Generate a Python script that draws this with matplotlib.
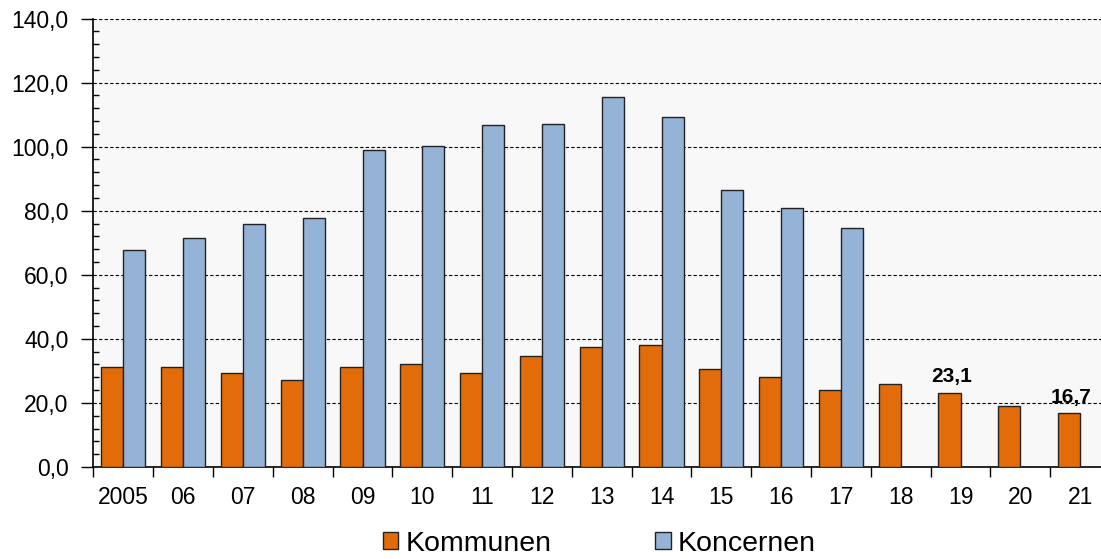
import matplotlib.pyplot as plt
from matplotlib.ticker import MultipleLocator, FuncFormatter
from matplotlib.patches import Patch
import numpy as np

plt.rcParams['font.family'] = ['Liberation Sans', 'DejaVu Sans']

years = ['2005', '06', '07', '08', '09', '10', '11', '12', '13', '14',
         '15', '16', '17', '18', '19', '20', '21']
kommunen = [31.1, 31.1, 29.3, 27.0, 31.1, 32.0, 29.3, 34.7, 37.3, 38.1,
            30.6, 28.0, 23.9, 25.8, 23.1, 19.0, 16.7]
koncernen = [67.6, 71.5, 76.0, 77.7, 99.1, 100.2, 106.6, 107.0, 115.5, 109.3,
             86.6, 80.8, 74.6]
labelled = {'19': '23,1', '21': '16,7'}

c_komm = '#E36C0A'
c_konc = '#95B3D7'

fig = plt.figure(figsize=(11.01, 5.59), dpi=100)
# plot area runs a little past the right edge, like the source image
ax = fig.add_axes([0.0849, 0.1646, 0.9233, 0.8023])
ax.set_facecolor('#F8F8F8')

x = np.arange(len(years))
w = 0.37
ax.bar(x - w / 2, kommunen, w, color=c_komm, edgecolor='#222222', linewidth=1, zorder=3)
ax.bar(x[:len(koncernen)] + w / 2, koncernen, w, color=c_konc, edgecolor='#222222',
       linewidth=1, zorder=3)

for i, yr in enumerate(years):
    if yr in labelled:
        ax.text(x[i] - w / 2 + 0.03, kommunen[i] + 3.3, labelled[yr], ha='center', va='baseline',
                fontsize=15, fontweight='bold', zorder=4)

ax.set_xlim(-0.5, len(years) - 0.5)
ax.set_ylim(0, 140)
ax.yaxis.set_major_locator(MultipleLocator(20))
ax.yaxis.set_minor_locator(MultipleLocator(4))
ax.yaxis.set_major_formatter(FuncFormatter(lambda v, p: f'{v:.1f}'.replace('.', ',')))
ax.grid(axis='y', which='major', color='black', linestyle=(0, (3, 2)), linewidth=0.8, zorder=1)

ax.set_xticks(x)
ax.set_xticklabels(years)
ax.set_xticks(np.arange(-0.5, len(years), 1.0), minor=True)
ax.tick_params(axis='x', which='major', length=0, labelsize=16.5, pad=14)
ax.tick_params(axis='x', which='minor', length=7, width=1, direction='out')
ax.tick_params(axis='y', which='major', length=9, width=1, direction='out', labelsize=16.5, pad=9)
ax.tick_params(axis='y', which='minor', length=4, width=1, direction='in')

for s in ['top', 'right']:
    ax.spines[s].set_visible(False)
ax.spines['left'].set_linewidth(1.2)
ax.spines['bottom'].set_linewidth(1.2)

handles = [Patch(facecolor=c_komm, edgecolor='#222222', label='Kommunen'),
           Patch(facecolor=c_konc, edgecolor='#222222', label='Koncernen')]
fig.legend(handles=handles, loc='center', bbox_to_anchor=(0.5445, 0.027), ncol=2,
           frameon=False, fontsize=20.5, handlelength=0.53, handleheight=0.53,
           handletextpad=0.25, columnspacing=3.65, borderpad=0)

fig.savefig('out.png', dpi=100)
